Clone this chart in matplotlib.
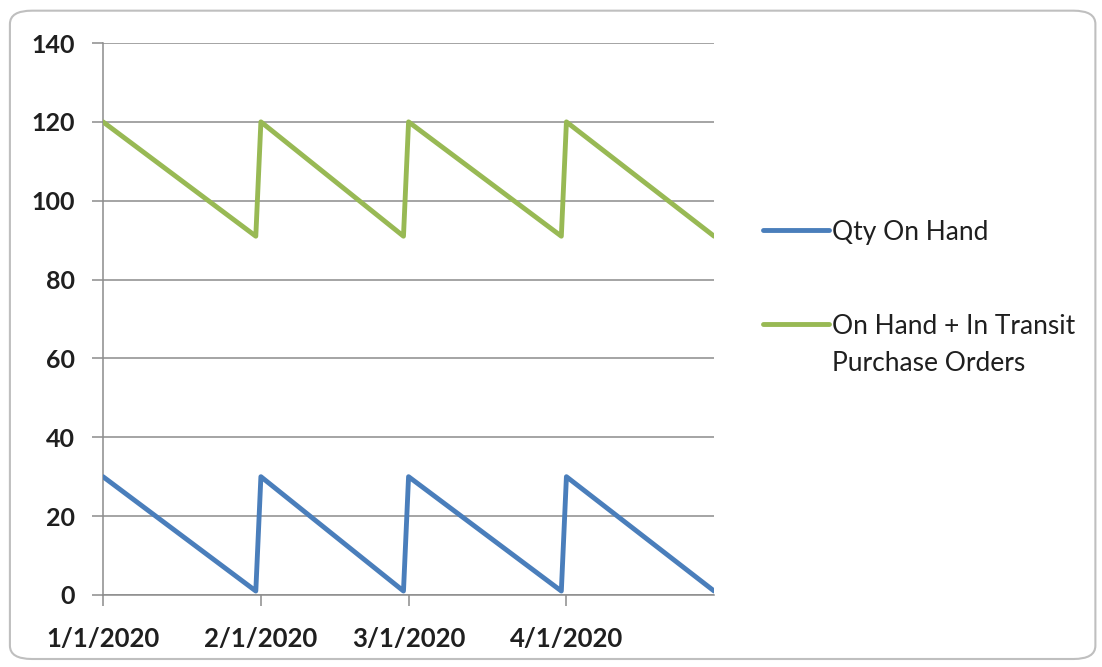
import matplotlib
matplotlib.use("Agg")
import matplotlib.pyplot as plt
from matplotlib.lines import Line2D
from matplotlib.patches import FancyBboxPatch
import datetime as dt

# ---- data ----
dates = ["2020-01-01", "2020-01-31", "2020-02-01", "2020-02-29",
         "2020-03-01", "2020-03-31", "2020-04-01", "2020-04-30"]
qty_on_hand = [30, 1, 30, 1, 30, 1, 30, 1]
on_hand_plus_transit = [120, 91, 120, 91, 120, 91, 120, 91]
series_labels = ["Qty On Hand", "On Hand + In Transit\nPurchase Orders"]
x_tick_dates = ["2020-01-01", "2020-02-01", "2020-03-01", "2020-04-01"]
x_tick_labels = ["1/1/2020", "2/1/2020", "3/1/2020", "4/1/2020"]
y_ticks = [0, 20, 40, 60, 80, 100, 120, 140]

x = [dt.datetime.strptime(d, "%Y-%m-%d") for d in dates]
xt = [dt.datetime.strptime(d, "%Y-%m-%d") for d in x_tick_dates]

FONT = "Lato"
TXT = "#1f1f1f"
GRID = "#8c8c8c"
BLUE = "#4a7ebb"
GREEN = "#98b954"
LW = 3.5

fig = plt.figure(figsize=(11.02, 6.67), dpi=100)
fig.patch.set_facecolor("white")

# chart border
border = FancyBboxPatch((0.009, 0.012), 0.985, 0.972,
                        boxstyle="round,pad=0,rounding_size=0.02",
                        transform=fig.transFigure, facecolor="white",
                        edgecolor="#bfbfbf", linewidth=1.5, zorder=0)
fig.add_artist(border)

ax = fig.add_axes([0.0935, 0.108, 0.5545, 0.8275])
ax.set_facecolor("none")

l1, = ax.plot(x, qty_on_hand, color=BLUE, lw=LW, solid_joinstyle="round",
              solid_capstyle="round", zorder=3)
l2, = ax.plot(x, on_hand_plus_transit, color=GREEN, lw=LW,
              solid_joinstyle="round", solid_capstyle="round", zorder=3)

ax.set_xlim(x[0], x[-1])
ax.set_ylim(0, 140)
ax.set_yticks(y_ticks)
ax.set_yticklabels([str(v) for v in y_ticks], fontfamily=FONT,
                   fontsize=18, fontweight="bold", color=TXT)
ax.set_xticks(xt)
ax.set_xticklabels(x_tick_labels, fontfamily=FONT, fontsize=18.5,
                   fontweight="bold", color=TXT)

ax.yaxis.grid(True, color=GRID, lw=1.1, zorder=1)
ax.xaxis.grid(False)
for s in ["top", "right"]:
    ax.spines[s].set_visible(False)
for s in ["left", "bottom"]:
    ax.spines[s].set_color(GRID)
    ax.spines[s].set_linewidth(1.1)
ax.tick_params(axis="y", length=8, width=1.1, color=GRID, pad=12)
ax.tick_params(axis="x", length=8, width=1.1, color=GRID, pad=15)
ax.set_axisbelow(True)

# legend (drawn manually so the handle lines up with the first text line)
LINE_STEP = 37 / 667
for line, lab, yy in [(l1, series_labels[0], 0.655), (l2, series_labels[1], 0.514)]:
    fig.add_artist(Line2D([0.692, 0.752], [yy, yy], transform=fig.transFigure,
                          color=line.get_color(), lw=LW, solid_capstyle="round"))
    for i, part in enumerate(lab.split("\n")):
        fig.text(0.755, yy - 0.0145 - i * LINE_STEP, part, fontfamily=FONT,
                 fontsize=19, color=TXT, va="baseline", ha="left",
                 transform=fig.transFigure)

fig.savefig("out.png", dpi=100)
